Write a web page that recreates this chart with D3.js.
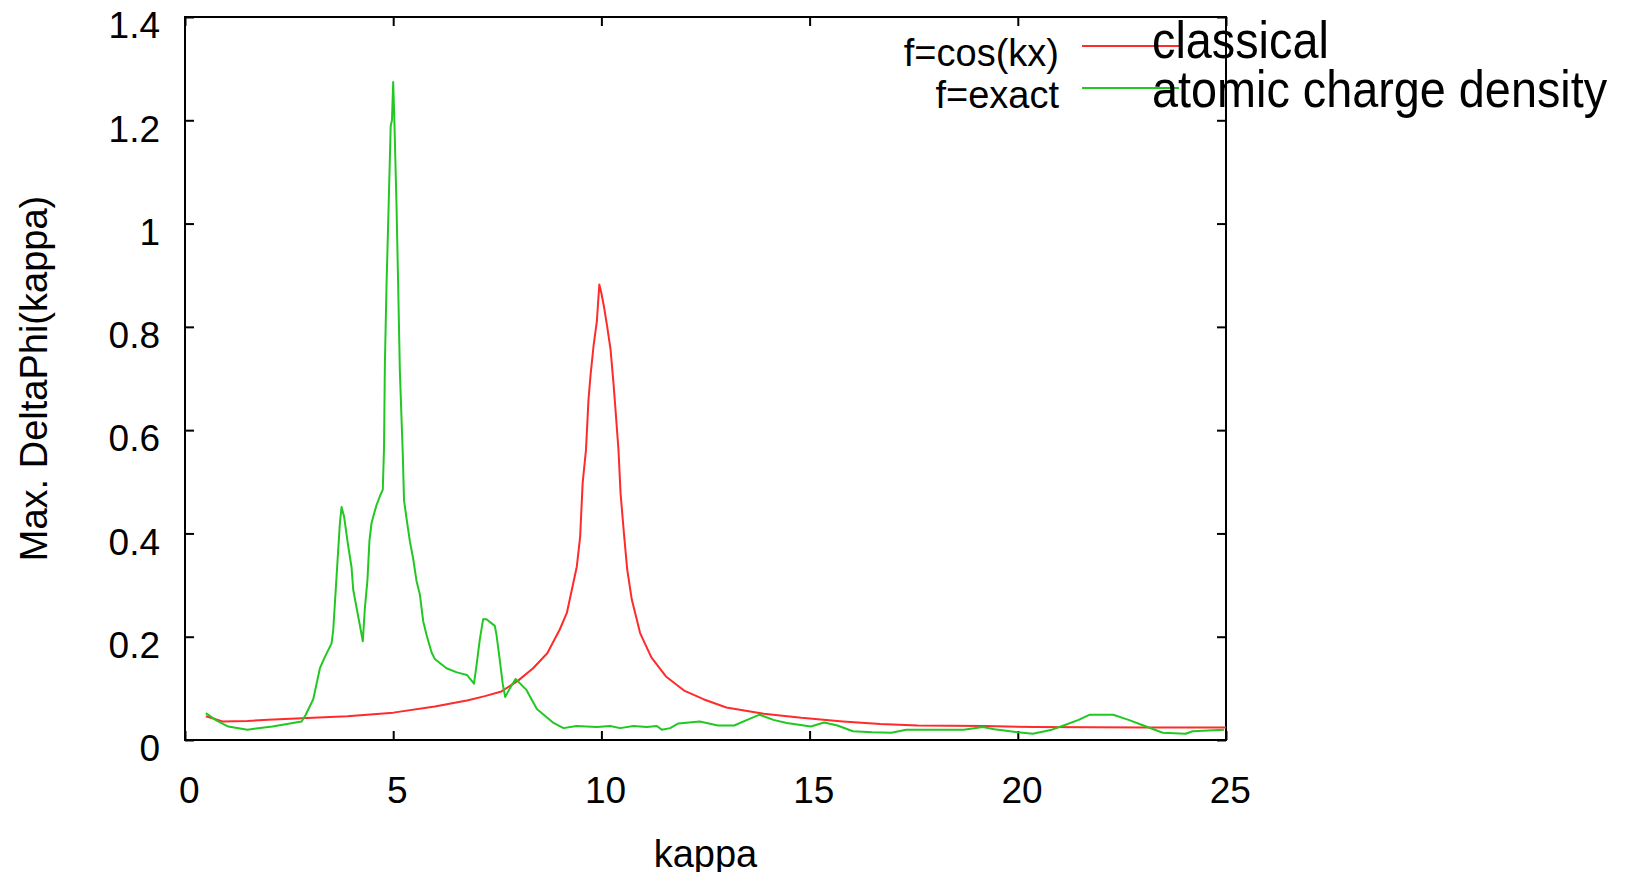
<!DOCTYPE html>
<html>
<head>
<meta charset="utf-8">
<script src="https://d3js.org/d3.v7.min.js"></script>
<style>
  body { margin: 0; background: #fff; }
  svg { display: block; }
  text { font-family: "Liberation Sans", Arial, Helvetica, sans-serif; fill: #000; }
</style>
</head>
<body>
<div id="chart"></div>
<script>
// values
const xTicks = [0, 5, 10, 15, 20, 25];
const yTicks = [0, 0.2, 0.4, 0.6, 0.8, 1, 1.2, 1.4];

// f=cos(kx)  (red)
const kappaCos = [0.5, 0.9, 1.5, 2.0, 2.8, 3.9, 5.0, 6.0, 6.8, 7.2, 7.6, 8.0, 8.36, 8.7, 9.0, 9.17, 9.29, 9.41,
  9.49, 9.55, 9.63, 9.69, 9.74, 9.81, 9.89, 9.95, 10.0, 10.06, 10.14, 10.22, 10.29, 10.35, 10.41, 10.46,
  10.54, 10.62, 10.73, 10.93, 11.2, 11.55, 12.0, 12.45, 13.0, 13.9, 14.8, 15.8, 16.7, 17.6, 19.2, 20.4, 23.1, 25.0];
const valueCos = [0.046, 0.036, 0.037, 0.039, 0.042, 0.046, 0.053, 0.065, 0.077, 0.085, 0.094, 0.115, 0.139, 0.168,
  0.214, 0.246, 0.291, 0.336, 0.394, 0.498, 0.562, 0.659, 0.707, 0.762, 0.81, 0.882, 0.865, 0.84, 0.80, 0.756,
  0.691, 0.627, 0.562, 0.478, 0.401, 0.33, 0.272, 0.207, 0.16, 0.123, 0.095, 0.079, 0.063, 0.051, 0.043, 0.036,
  0.031, 0.028, 0.027, 0.025, 0.024, 0.024];

// f=exact  (green)
const kappaExact = [0.5, 0.75, 1.04, 1.5, 2.1, 2.8, 2.9, 3.08, 3.24, 3.36, 3.52, 3.56, 3.64, 3.72, 3.76, 3.82, 3.9,
  4.0, 4.04, 4.12, 4.2, 4.27, 4.32, 4.38, 4.43, 4.48, 4.54, 4.6, 4.68, 4.75, 4.78, 4.8, 4.84, 4.89, 4.94, 4.97,
  5.0, 5.03, 5.08, 5.12, 5.16, 5.23, 5.26, 5.32, 5.4, 5.48, 5.56, 5.64, 5.72, 5.8, 5.92, 6.0, 6.28, 6.53, 6.77,
  6.94, 7.0, 7.08, 7.16, 7.24, 7.44, 7.48, 7.55, 7.63, 7.69, 7.8, 7.94, 8.2, 8.45, 8.85, 9.09, 9.4, 9.89, 10.21,
  10.45, 10.77, 11.09, 11.33, 11.45, 11.65, 11.85, 12.36, 12.8, 13.19, 13.5, 13.8, 14.13, 14.45, 15.03, 15.35,
  15.67, 16.04, 16.5, 16.96, 17.32, 18.7, 19.16, 19.44, 20.0, 20.36, 20.82, 21.1, 21.46, 21.73, 22.29, 22.66,
  23.02, 23.48, 24.03, 24.2, 24.95];
const valueExact = [0.052, 0.038, 0.026, 0.020, 0.026, 0.036, 0.049, 0.079, 0.139, 0.161, 0.187, 0.213, 0.317, 0.42,
  0.451, 0.433, 0.386, 0.334, 0.291, 0.256, 0.222, 0.191, 0.256, 0.308, 0.386, 0.42, 0.438, 0.455, 0.472, 0.485,
  0.567, 0.727, 0.882, 1.033, 1.189, 1.20, 1.274, 1.194, 1.033, 0.878, 0.714, 0.554, 0.464, 0.429, 0.385, 0.351,
  0.308, 0.282, 0.23, 0.204, 0.17, 0.157, 0.139, 0.131, 0.126, 0.109, 0.144, 0.195, 0.234, 0.234, 0.221, 0.204,
  0.161, 0.109, 0.083, 0.10, 0.118, 0.097, 0.06, 0.033, 0.023, 0.027, 0.025, 0.027, 0.023, 0.027, 0.025, 0.027,
  0.020, 0.023, 0.032, 0.036, 0.028, 0.028, 0.039, 0.049, 0.039, 0.033, 0.026, 0.034, 0.028, 0.017, 0.015, 0.014,
  0.020, 0.020, 0.025, 0.021, 0.015, 0.012, 0.020, 0.028, 0.039, 0.049, 0.049, 0.039, 0.028, 0.014, 0.012, 0.017,
  0.020];

const seriesNames = ["f=cos(kx)", "f=exact"];
const seriesColors = ["#ff2a2a", "#22c822"];
const overlayNames = ["classical", "atomic charge density"];

const W = 1636, H = 872;
const margin = {left: 185, right: 1636 - 1226, top: 17, bottom: 872 - 740};

const svg = d3.select("#chart").append("svg")
  .attr("width", W)
  .attr("height", H);

const x = d3.scaleLinear().domain([0, 25]).range([margin.left, W - margin.right]);
const y = d3.scaleLinear().domain([0, 1.4]).range([H - margin.bottom, margin.top]);

const fmt = d => d3.format("~g")(d);

// axes, ticks pointing into the plot like gnuplot
svg.append("g")
  .attr("transform", `translate(${margin.left},0)`)
  .call(d3.axisLeft(y).tickValues(yTicks).tickFormat(fmt).tickSizeInner(-9).tickSizeOuter(0).tickPadding(25))
  .call(g => g.select(".domain").remove())
  .call(g => g.selectAll("text").attr("dy", "0.56em").style("font-size", "37px"));

svg.append("g")
  .attr("transform", `translate(${W - margin.right},0)`)
  .call(d3.axisRight(y).tickValues(yTicks).tickFormat("").tickSizeInner(-9).tickSizeOuter(0))
  .call(g => g.select(".domain").remove());

svg.append("g")
  .attr("transform", `translate(0,${H - margin.bottom})`)
  .call(d3.axisBottom(x).tickValues(xTicks).tickFormat(fmt).tickSizeInner(-9).tickSizeOuter(0).tickPadding(37))
  .call(g => g.select(".domain").remove())
  .call(g => g.selectAll("text").attr("dx", "0.1em").style("font-size", "37px"));

svg.append("g")
  .attr("transform", `translate(0,${margin.top})`)
  .call(d3.axisTop(x).tickValues(xTicks).tickFormat("").tickSizeInner(-9).tickSizeOuter(0))
  .call(g => g.select(".domain").remove());

svg.selectAll(".tick line").attr("stroke", "#000").attr("stroke-width", 2);

// frame
svg.append("rect")
  .attr("x", x(0))
  .attr("y", y(1.4))
  .attr("width", x(25) - x(0))
  .attr("height", y(0) - y(1.4))
  .attr("fill", "none")
  .attr("stroke", "#000")
  .attr("stroke-width", 2);

// lines
const line = d3.line()
  .x(d => x(d[0]))
  .y(d => y(d[1]));

const cosData = d3.zip(kappaCos, valueCos);
const exactData = d3.zip(kappaExact, valueExact);

[cosData, exactData].forEach((data, i) => {
  svg.append("path")
    .datum(data)
    .attr("d", line)
    .attr("fill", "none")
    .attr("stroke", seriesColors[i])
    .attr("stroke-width", 2)
    .attr("stroke-linejoin", "round");
});

// axis titles
svg.append("text")
  .attr("x", (x(0) + x(25)) / 2)
  .attr("y", 867)
  .attr("text-anchor", "middle")
  .style("font-size", "38px")
  .text("kappa");

svg.append("text")
  .attr("transform", `translate(47,${(y(0) + y(1.4)) / 2}) rotate(-90)`)
  .attr("text-anchor", "middle")
  .style("font-size", "38px")
  .text("Max. DeltaPhi(kappa)");

// gnuplot key
const key = svg.append("g");
seriesNames.forEach((name, i) => {
  const ly = 46 + i * 42;
  key.append("text")
    .attr("x", 1059)
    .attr("y", ly + 20)
    .attr("text-anchor", "end")
    .style("font-size", "38px")
    .text(name);
  key.append("line")
    .attr("x1", 1082).attr("x2", 1179)
    .attr("y1", ly).attr("y2", ly)
    .attr("stroke", seriesColors[i])
    .attr("stroke-width", 2);
});

// the big labels written over the key
overlayNames.forEach((name, i) => {
  svg.append("text")
    .attr("transform", `translate(1152,${58 + i * 49}) scale(0.9,1)`)
    .style("font-size", "52px")
    .text(name);
});
</script>
</body>
</html>
